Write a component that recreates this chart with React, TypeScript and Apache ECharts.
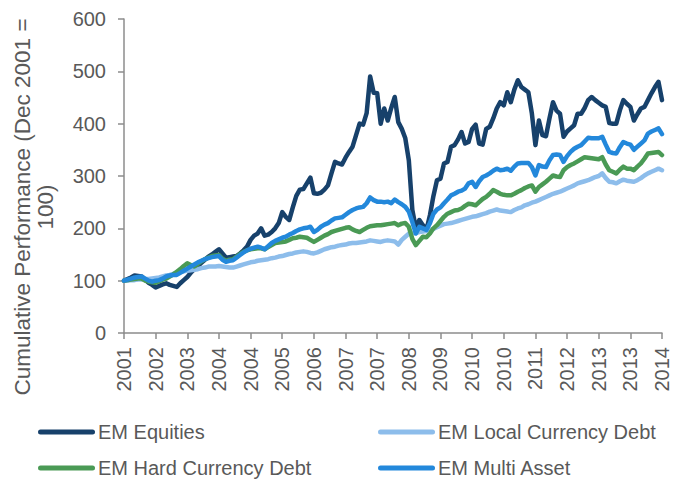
import React, { useEffect, useRef } from "react";
import * as echarts from "echarts";

const startYear = 2001;
const startMonth = 12;
const categories: string[] = [];
for (let i = 0; i < 154; i++) {
  const m = startMonth - 1 + i;
  const y = startYear + Math.floor(m / 12);
  const mm = (m % 12) + 1;
  categories.push(`${y}-${mm < 10 ? "0" + mm : mm}`);
}

const seriesNames = ["EM Equities", "EM Local Currency Debt", "EM Hard Currency Debt", "EM Multi Asset"];

const emEquities = [100,103,106,110,109,108,102,96,92,87,
90,93,95,92,90,88,95,101,107,115,
122,128,134,140,146,150,155,160,152,144,
145,146,147,152,158,165,178,186,190,200,
186,188,193,200,210,231,222,216,240,262,
274,275,286,297,267,266,268,274,282,305,
327,324,322,335,346,356,378,400,398,420,
490,459,458,400,429,406,430,451,403,390,
372,330,235,200,216,206,197,225,262,292,
295,324,327,356,359,370,384,362,365,390,
398,362,360,390,394,410,429,441,435,460,
441,465,483,470,465,460,419,359,406,378,
376,410,441,425,419,375,385,391,397,419,
419,430,445,451,445,440,435,432,401,400,
400,425,445,438,432,406,418,429,432,445,
458,470,480,445];

const emLocal = [100,100,101,101,102,102,103,103,104,105,
106,108,110,111,113,115,117,118,119,120,
121,122,124,125,127,127,127,128,127,126,
125,125,127,129,131,133,135,136,138,139,
140,141,143,144,146,147,149,151,152,154,
155,156,155,153,152,154,157,160,162,164,
165,167,168,169,171,172,172,173,174,175,
177,176,175,174,176,177,176,175,169,178,
184,190,191,191,193,194,195,197,199,202,
205,208,209,210,212,214,216,218,220,222,
223,225,227,229,232,234,236,234,233,232,
231,235,238,240,244,246,249,251,254,257,
260,263,266,268,270,273,276,279,282,286,
288,290,292,295,298,300,305,296,289,288,
286,290,293,291,290,289,292,296,301,305,
308,311,314,311];

const emHard = [100,101,102,103,104,104,100,98,97,96,
99,102,104,108,112,117,122,128,133,130,
127,132,137,141,144,147,148,149,142,138,
140,141,146,151,155,158,160,161,162,162,
160,164,168,172,173,174,175,178,181,182,
184,183,182,178,174,178,182,186,189,193,
195,197,199,201,202,198,195,193,197,201,
204,205,206,206,207,208,209,210,206,209,
210,203,180,168,176,184,183,190,200,206,
214,222,228,231,234,235,238,243,247,246,
244,250,256,260,266,273,270,266,264,263,
263,266,270,273,277,280,282,270,279,284,
289,295,301,299,298,311,317,321,324,328,
332,336,335,334,333,332,336,322,311,308,
305,312,318,314,314,311,318,324,333,343,
344,345,346,340];

const emMulti = [100,102,104,106,107,108,104,100,98,100,
101,104,108,110,111,111,115,119,123,127,
131,135,138,141,143,145,146,147,140,136,
138,139,144,149,154,158,161,163,165,163,
160,166,172,176,179,182,184,188,191,195,
198,200,201,203,193,197,203,207,210,215,
219,220,221,226,231,235,238,240,241,248,
259,254,251,251,250,251,248,255,250,246,
241,232,212,190,203,200,197,210,228,236,
240,248,255,263,266,270,272,276,286,289,
279,290,298,301,305,310,314,311,312,314,
310,318,324,325,325,325,317,301,321,318,
317,330,340,341,340,327,338,346,352,356,
359,366,373,372,372,372,375,360,346,344,
343,355,365,362,360,350,356,362,368,381,
385,388,391,380];

const seriesData = [emEquities, emLocal, emHard, emMulti];
const colors = ["#17416B", "#8DBDEB", "#4A9A55", "#2388DB"];

const yAxisTitleLines = ["Cumulative Performance (Dec 2001 =", "100)"];

const FONT = "'Liberation Sans', Arial, sans-serif";
const TEXT_COLOR = "#595959";
const AXIS_COLOR = "#8C8C8C";
const legendIcon = "path://M2.5,0 L54.5,0 A2.5,2.5 0 0 1 54.5,5 L2.5,5 A2.5,2.5 0 0 1 2.5,0 Z";

const legendBase = {
  orient: "vertical",
  top: 417,
  height: 60,
  itemWidth: 57,
  itemHeight: 5,
  itemGap: 16,
  icon: legendIcon,
  textStyle: { fontSize: 20, color: TEXT_COLOR, fontFamily: FONT, padding: [0, 0, 0, -2] },
};

export default function App() {
  const ref = useRef<HTMLDivElement>(null);
  useEffect(() => {
    if (!ref.current) return;
    const chart = echarts.init(ref.current, undefined, { renderer: "svg" });
    chart.setOption({
      animation: false,
      backgroundColor: "#ffffff",
      textStyle: { fontFamily: FONT },
      grid: { left: 124, right: 16, top: 19, bottom: 146, containLabel: false },
      legend: [
        { ...legendBase, left: 33, data: [seriesNames[0], seriesNames[2]] },
        { ...legendBase, left: 373, data: [seriesNames[1], seriesNames[3]] },
      ],
      xAxis: {
        type: "category",
        data: categories,
        boundaryGap: false,
        axisLine: { show: true, lineStyle: { color: AXIS_COLOR, width: 1.5 } },
        axisTick: { show: true, interval: 8, length: 6, lineStyle: { color: AXIS_COLOR, width: 1.5 } },
        axisLabel: {
          interval: 8,
          rotate: 90,
          margin: 14,
          fontSize: 20,
          color: TEXT_COLOR,
          fontFamily: FONT,
          formatter: (v: string) => v.slice(0, 4),
        },
        splitLine: { show: false },
      },
      yAxis: {
        type: "value",
        min: 0,
        max: 600,
        interval: 100,
        axisLine: { show: true, lineStyle: { color: AXIS_COLOR, width: 1.5 } },
        axisTick: { show: true, length: 6, lineStyle: { color: AXIS_COLOR, width: 1.5 } },
        axisLabel: { fontSize: 20, color: TEXT_COLOR, margin: 18, fontFamily: FONT },
        splitLine: { show: false },
      },
      graphic: [
        {
          type: "text",
          x: 33.5,
          y: 207,
          rotation: Math.PI / 2,
          style: {
            text: yAxisTitleLines.join("\n"),
            fontSize: 22.5,
            fontFamily: FONT,
            fill: TEXT_COLOR,
            align: "center",
            verticalAlign: "middle",
            lineHeight: 23,
          },
        },
      ],
      series: seriesNames.map((name, i) => ({
        name,
        type: "line",
        data: seriesData[i],
        showSymbol: false,
        symbol: "none",
        color: colors[i],
        lineStyle: { width: 4.5, color: colors[i], cap: "round", join: "round" },
        z: 2 + i,
      })),
    });
    return () => chart.dispose();
  }, []);
  return (
    <div
      ref={ref}
      style={{ position: "fixed", left: 0, top: 0, width: 678, height: 479 }}
    />
  );
}
